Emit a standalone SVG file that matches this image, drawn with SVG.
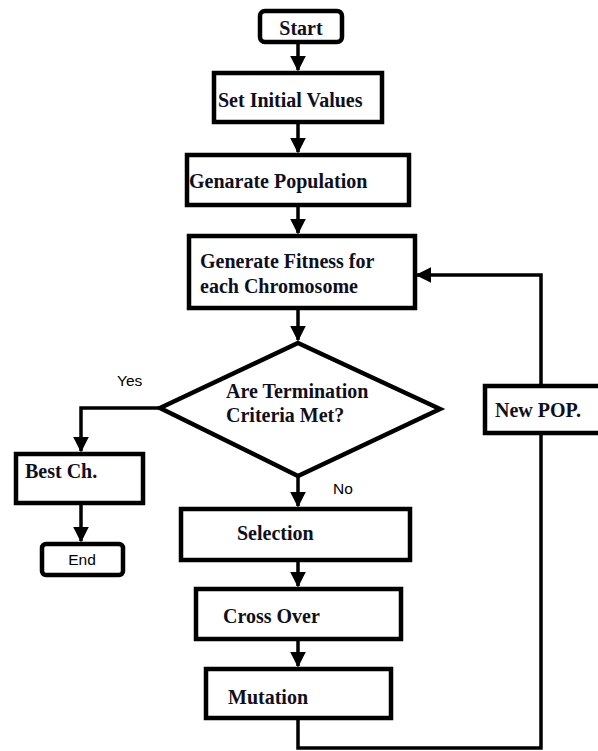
<svg xmlns="http://www.w3.org/2000/svg" width="598" height="751" viewBox="0 0 598 751">
<style>
.box{fill:#fff;stroke:#000;stroke-width:4.5}
.ln{fill:none;stroke:#000;stroke-width:3.5}
.t{font-family:"Liberation Serif","Times New Roman",serif;font-weight:bold;font-size:20px;fill:#0f0f20}
.s{font-family:"Liberation Sans",Arial,sans-serif;font-size:15.5px;fill:#000}
</style>
<defs>
<marker id="ah" viewBox="0 0 10 10" refX="9" refY="5" markerWidth="4.5" markerHeight="4.5" orient="auto" markerUnits="strokeWidth">
<path d="M0,0 L10,5 L0,10 z" fill="#000"/>
</marker>
</defs>
<rect width="598" height="751" fill="#fff"/>
<g id="connectors">
<line class="ln" x1="298" y1="42" x2="298" y2="70" marker-end="url(#ah)"/>
<line class="ln" x1="298" y1="122" x2="298" y2="152" marker-end="url(#ah)"/>
<line class="ln" x1="298" y1="205" x2="298" y2="233" marker-end="url(#ah)"/>
<line class="ln" x1="298" y1="308" x2="298" y2="340" marker-end="url(#ah)"/>
<polyline class="ln" points="160,408 81,408 81,451" marker-end="url(#ah)"/>
<line class="ln" x1="81" y1="503" x2="81" y2="541" marker-end="url(#ah)"/>
<line class="ln" x1="298" y1="476" x2="298" y2="506" marker-end="url(#ah)"/>
<line class="ln" x1="298" y1="560" x2="298" y2="586" marker-end="url(#ah)"/>
<line class="ln" x1="298" y1="639" x2="298" y2="666" marker-end="url(#ah)"/>
<polyline class="ln" points="298,718 298,748 541,748 541,433"/>
<polyline class="ln" points="541,386 541,275 417,275" marker-end="url(#ah)"/>
</g>
<g id="start">
<rect class="box" x="260" y="11" width="82" height="31" rx="5"/>
<text class="t" x="301" y="35" text-anchor="middle">Start</text>
</g>
<g id="init">
<rect class="box" x="214" y="73" width="168" height="49"/>
<text class="t" x="218" y="107">Set Initial Values</text>
</g>
<g id="population">
<rect class="box" x="187" y="155" width="222" height="50"/>
<text class="t" x="189" y="188">Genarate Population</text>
</g>
<g id="fitness">
<rect class="box" x="189" y="236" width="226" height="72"/>
<text class="t" x="200" y="268">Generate Fitness for</text>
<text class="t" x="200" y="293">each Chromosome</text>
</g>
<g id="decision">
<polygon class="box" points="298,343 440,409 298,476 160,408"/>
<text class="t" x="226" y="398">Are Termination</text>
<text class="t" x="226" y="422">Criteria Met?</text>
<text class="s" x="117" y="386">Yes</text>
<text class="s" x="333" y="494">No</text>
</g>
<g id="best">
<rect class="box" x="16" y="454" width="127" height="49"/>
<text class="t" x="25" y="478">Best Ch.</text>
</g>
<g id="end">
<rect class="box" x="42" y="544" width="81" height="31" rx="4"/>
<text class="s" x="82" y="565" text-anchor="middle">End</text>
</g>
<g id="selection">
<rect class="box" x="181" y="509" width="229" height="51"/>
<text class="t" x="237" y="540">Selection</text>
</g>
<g id="crossover">
<rect class="box" x="196" y="589" width="205" height="50"/>
<text class="t" x="223" y="623">Cross Over</text>
</g>
<g id="mutation">
<rect class="box" x="206" y="669" width="185" height="49"/>
<text class="t" x="228" y="704">Mutation</text>
</g>
<g id="newpop">
<rect class="box" x="485" y="386" width="120" height="47"/>
<text class="t" x="495" y="417">New POP.</text>
</g>
</svg>
